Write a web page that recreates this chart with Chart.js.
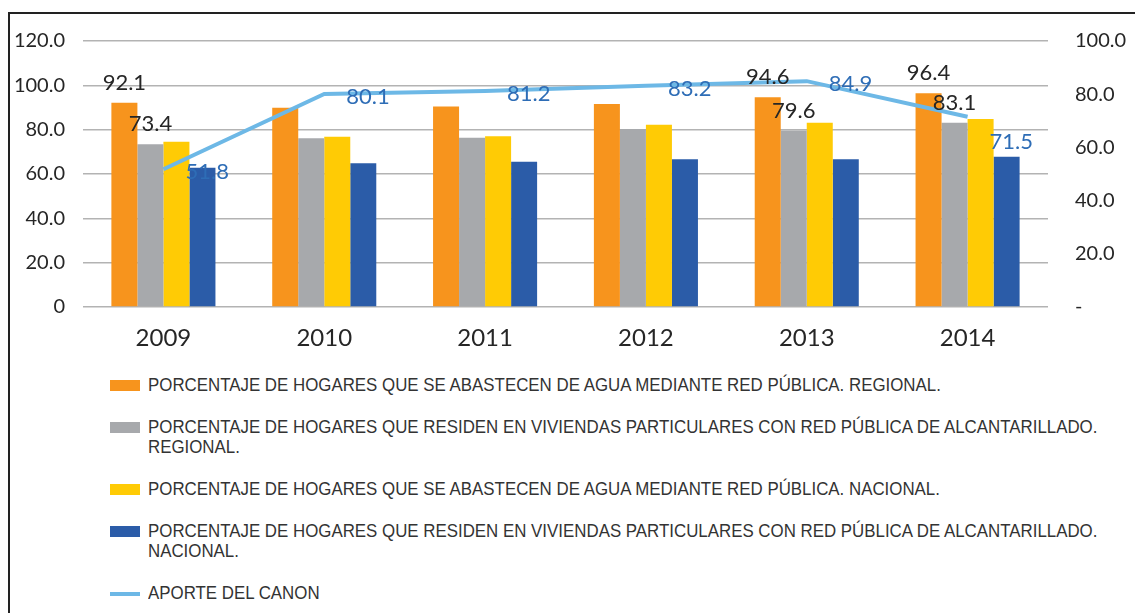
<!DOCTYPE html>
<html>
<head>
<meta charset="utf-8">
<script src="https://cdn.jsdelivr.net/npm/chart.js@4.4.0/dist/chart.umd.min.js"></script>
<style>
    html, body { margin: 0; padding: 0; background: #fff; overflow: hidden; }
    body { width: 1135px; height: 613px; position: relative; }
    #frame {
        position: absolute; left: 8px; top: 12px; width: 1200px; height: 700px;
        border: 2px solid #222; box-sizing: border-box;
    }
    #chart-box { position: absolute; left: 0; top: 0; width: 1135px; height: 355px; }
    #legend {
        position: absolute; left: 110px; top: 375px; margin: 0; padding: 0; list-style: none;
        font-family: "Liberation Sans", sans-serif;
        font-size: 19px; color: #333;
    }
    #legend li { display: flex; align-items: flex-start; margin-bottom: 22px; line-height: 20px; }
    #legend .sw { width: 30px; height: 11px; margin-right: 8px; margin-top: 5px; flex: none; }
    #legend .sw.line { height: 4px; margin-top: 9px; }
    #legend .tx { white-space: nowrap; display: inline-block; transform: scaleX(0.888); transform-origin: left top; }
</style>
</head>
<body>
<div id="frame"></div>
<div id="chart-box"><canvas id="canal-chart"></canvas></div>
<ul id="legend"></ul>
<script>
const years = ["2009", "2010", "2011", "2012", "2013", "2014"];

const aguaRegional = [92.1, 89.9, 90.4, 91.6, 94.6, 96.4];
const alcantRegional = [73.4, 76.1, 76.4, 80.3, 79.6, 83.1];
const aguaNacional = [74.6, 76.8, 77.0, 82.2, 83.1, 84.8];
const alcantNacional = [62.8, 64.8, 65.5, 66.6, 66.6, 67.8];
const aporteCanon = [51.8, 80.1, 81.2, 83.2, 84.9, 71.5];

const leftTickLabels = ["0", "20.0", "40.0", "60.0", "80.0", "100.0", "120.0"];
const rightTickLabels = ["-", "20.0", "40.0", "60.0", "80.0", "100.0"];

// years whose bar values are printed on the chart
const labelledYears = ["2009", "2013", "2014"];

const FONT = "Lato, 'DejaVu Sans', sans-serif";
const TEXT = "#262626";

// draws the value labels (no datalabels plugin offline)
const valueLabels = {
    id: "valueLabels",
    afterDatasetsDraw(chart) {
        const ctx = chart.ctx;
        ctx.save();
        ctx.font = "22px " + FONT;
        chart.data.datasets.forEach((ds, i) => {
            const lbl = ds.valueLabels;
            if (!lbl) return;
            const meta = chart.getDatasetMeta(i);
            meta.data.forEach((el, j) => {
                if (lbl.only && !lbl.only.includes(years[j])) return;
                const txt = ds.data[j].toFixed(1);
                ctx.fillStyle = lbl.color;
                if (ds.type === "line") {
                    ctx.textAlign = "left";
                    ctx.textBaseline = "middle";
                    const dy = j === ds.data.length - 1 ? 25 : 3;
                    ctx.fillText(txt, el.x + 22, el.y + dy);
                } else {
                    ctx.textAlign = "center";
                    ctx.textBaseline = "alphabetic";
                    ctx.fillText(txt, el.x, el.y - 13);
                }
            });
        });
        ctx.restore();
    },
};

function bar(label, data, color, withLabels) {
    return {
        type: "bar",
        label: label,
        data: data,
        backgroundColor: color,
        borderWidth: 0,
        categoryPercentage: 0.647,
        barPercentage: 1,
        yAxisID: "y",
        order: 1,
        valueLabels: withLabels ? { color: TEXT, only: labelledYears } : null,
    };
}

const datasets = [
    bar("PORCENTAJE DE HOGARES QUE SE ABASTECEN DE AGUA MEDIANTE RED PÚBLICA. REGIONAL.",
        aguaRegional, "#F7941D", true),
    bar(["PORCENTAJE DE HOGARES QUE RESIDEN EN VIVIENDAS PARTICULARES CON RED PÚBLICA DE ALCANTARILLADO.", "REGIONAL."],
        alcantRegional, "#A7A9AC", true),
    bar("PORCENTAJE DE HOGARES QUE SE ABASTECEN DE AGUA MEDIANTE RED PÚBLICA. NACIONAL.",
        aguaNacional, "#FFCB05", false),
    bar(["PORCENTAJE DE HOGARES QUE RESIDEN EN VIVIENDAS PARTICULARES CON RED PÚBLICA DE ALCANTARILLADO.", "NACIONAL."],
        alcantNacional, "#2B5CA8", false),
    {
        type: "line",
        label: "APORTE DEL CANON",
        data: aporteCanon,
        borderColor: "#6DB8E6",
        backgroundColor: "#6DB8E6",
        borderWidth: 4,
        pointRadius: 0,
        tension: 0,
        yAxisID: "y1",
        order: 0,
        valueLabels: { color: "#2E6DB6" },
    },
];

const chart = new Chart(document.getElementById("canal-chart"), {
    data: { labels: years, datasets: datasets },
    plugins: [valueLabels],
    options: {
        responsive: true,
        maintainAspectRatio: false,
        animation: false,
        layout: { padding: { top: 41, left: 0, right: 0, bottom: 0 } },
        plugins: { legend: { display: false }, tooltip: { enabled: false } },
        scales: {
            x: {
                grid: { display: false },
                border: { display: false },
                ticks: { font: { family: FONT, size: 24 }, color: TEXT, padding: 9 },
                afterFit(s) { s.height = 48; },
            },
            y: {
                position: "left",
                min: 0,
                max: 120,
                ticks: {
                    stepSize: 20,
                    padding: 18,
                    font: { family: FONT, size: 20 },
                    color: TEXT,
                    callback: (v, i) => leftTickLabels[i],
                },
                grid: { color: "#b3b3b3", lineWidth: 1.5, drawTicks: false },
                border: { display: false },
                afterFit(s) { s.width = 83; },
            },
            y1: {
                position: "right",
                min: 0,
                max: 100,
                ticks: {
                    stepSize: 20,
                    padding: 27,
                    font: { family: FONT, size: 20 },
                    color: TEXT,
                    callback: (v, i) => rightTickLabels[i],
                },
                grid: { display: false, drawTicks: false },
                border: { display: false },
                afterFit(s) { s.width = 87; },
            },
        },
    },
});

// legend as HTML, built from the chart datasets
const legendEl = document.getElementById("legend");
chart.data.datasets.forEach((ds) => {
    const li = document.createElement("li");
    const sw = document.createElement("span");
    sw.className = ds.type === "line" ? "sw line" : "sw";
    sw.style.background = ds.type === "line" ? ds.borderColor : ds.backgroundColor;
    const tx = document.createElement("span");
    tx.className = "tx";
    tx.innerHTML = [].concat(ds.label).join("<br>");
    li.appendChild(sw);
    li.appendChild(tx);
    legendEl.appendChild(li);
});
</script>
</body>
</html>
